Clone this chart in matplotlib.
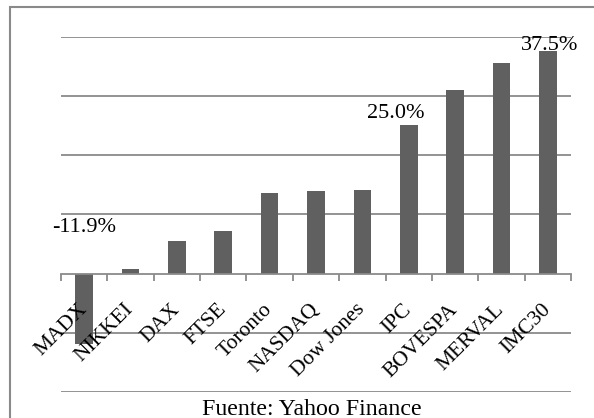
import numpy as np
import matplotlib
matplotlib.use("Agg")
from matplotlib import pyplot as plt
from matplotlib.patches import Rectangle

plt.rcParams["font.family"] = ["Liberation Serif", "DejaVu Serif"]

indices = ["MADX", "NIKKEI", "DAX", "FTSE", "Toronto", "NASDAQ",
           "Dow Jones", "IPC", "BOVESPA", "MERVAL", "IMC30"]
returns = [-11.9, 0.7, 5.5, 7.1, 13.6, 13.9, 14.1, 25.0, 31.0, 35.5, 37.5]
labelled = {"MADX": "-11.9%", "IPC": "25.0%", "IMC30": "37.5%"}
gridlevels = [-20, -10, 10, 20, 30, 40]
source = "Fuente: Yahoo Finance"

grey = "#8a8a8a"
bar_col = "#606060"

fig = plt.figure(figsize=(5.94, 4.18), dpi=100)
ax = fig.add_axes([61/594, 1-392/418, (571-61)/594, (392-36.5)/418])

# axis line on the zero level (set first: it resets tick styles)
for s in ["top", "left", "right"]:
    ax.spines[s].set_visible(False)
ax.spines["bottom"].set_position(("data", 0))
ax.spines["bottom"].set_color(grey)
ax.spines["bottom"].set_linewidth(1.3)

x = np.arange(len(indices))
for g in gridlevels:
    ax.axhline(g, color=grey, lw=1.3, zorder=0)
ax.bar(x, returns, width=0.38, color=bar_col, zorder=1)

ax.set_xlim(-0.5, len(indices) - 0.5)
ax.set_ylim(-20, 40)
ax.set_yticks([])

# category labels, ticks at category boundaries
ax.set_xticks(x)
ax.set_xticklabels(indices, rotation=45, ha="right", va="center",
                   rotation_mode="anchor", fontsize=15.5)
ax.tick_params(axis="x", which="major", length=0, pad=24)
ax.set_xticks(np.arange(len(indices) + 1) - 0.5, minor=True)
ax.tick_params(axis="x", which="minor", length=5, color=grey, width=1.3)

offsets = {"MADX": (0, 30), "IPC": (-9, 5), "IMC30": (1, 1)}
for i, name in enumerate(indices):
    if name in labelled:
        base = 0 if returns[i] < 0 else returns[i]
        ax.annotate(labelled[name], xy=(i, base), xytext=offsets[name],
                    textcoords="offset points", ha="center", va="baseline",
                    fontsize=16, zorder=5)

fig.text(312/594, 3/418, source, ha="center", va="baseline", fontsize=17.2)

fig.patches.append(Rectangle((10/594, -0.2), 2, 1.2 - 7/418, transform=fig.transFigure,
                             fill=False, edgecolor=grey, lw=1.5))

fig.savefig("out.png", dpi=100)
